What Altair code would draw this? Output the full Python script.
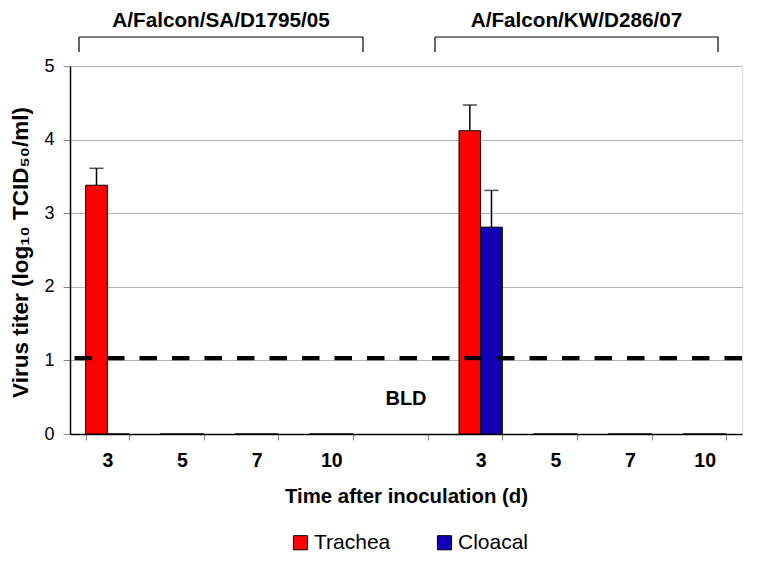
import altair as alt
import pandas as pd

GROUP_NAMES = ["A/Falcon/SA/D1795/05", "A/Falcon/KW/D286/07"]
GROUP_KEYS = ["A", "B"]
DAYS = ["3", "5", "7", "10"]
SERIES = ["Trachea", "Cloacal"]
COLORS = ["#FF0000", "#1200B4"]

TRACHEA_A = [3.38, 0, 0, 0]
TRACHEA_A_ERR = [0.23, 0, 0, 0]
CLOACAL_A = [0, 0, 0, 0]
CLOACAL_A_ERR = [0, 0, 0, 0]
TRACHEA_B = [4.12, 0, 0, 0]
TRACHEA_B_ERR = [0.35, 0, 0, 0]
CLOACAL_B = [2.81, 0, 0, 0]
CLOACAL_B_ERR = [0.50, 0, 0, 0]

DETECTION_LIMIT = [1.03]
BLD_LABEL = ["BLD"]

FONT = "Liberation Sans"

rows = []
for gk, tv, te, cv, ce in [("A", TRACHEA_A, TRACHEA_A_ERR, CLOACAL_A, CLOACAL_A_ERR),
                           ("B", TRACHEA_B, TRACHEA_B_ERR, CLOACAL_B, CLOACAL_B_ERR)]:
    for i, d in enumerate(DAYS):
        rows.append({"key": f"{gk}|{d}", "series": "Trachea", "value": tv[i], "err": te[i]})
        rows.append({"key": f"{gk}|{d}", "series": "Cloacal", "value": cv[i], "err": ce[i]})
df = pd.DataFrame(rows)
df["top"] = df["value"] + df["err"]
err_df = df[df["err"] > 0]

domain = [f"A|{d}" for d in DAYS] + ["gap|"] + [f"B|{d}" for d in DAYS]

xscale = alt.Scale(domain=domain, paddingInner=0.42, paddingOuter=0.21)
yscale = alt.Scale(domain=[0, 5])
offscale = alt.Scale(domain=SERIES)

xaxis = alt.Axis(labelExpr="split(datum.label, '|')[1]", tickBand="extent", labelAngle=0,
                 labelFontSize=19.5, labelFontWeight="bold", labelFont=FONT, labelColor="black",
                 labelPadding=11, tickSize=6, tickColor="#888888", domainColor="black",
                 domainWidth=1.5, grid=False, titleFont=FONT, titleFontSize=20.4,
                 titleFontWeight="bold", titlePadding=17, titleColor="black")
yaxis = alt.Axis(values=[0, 1, 2, 3, 4, 5], format="d", labelFontSize=18, labelFont=FONT,
                 labelColor="black", labelPadding=9, tickSize=7, tickColor="#888888",
                 domainColor="black", domainWidth=1.5, gridColor="#b4b4b4", gridWidth=1,
                 titleFont=FONT, titleFontSize=22.5, titleFontWeight="bold", titleColor="black",
                 titleX=-43, titleY=186, titleBaseline="alphabetic", titleAngle=270)

base = alt.Chart(df)

bars = base.mark_bar(stroke="black", strokeWidth=1).encode(
    x=alt.X("key:N", scale=xscale, axis=xaxis, title="Time after inoculation (d)", sort=domain),
    xOffset=alt.XOffset("series:N", scale=offscale, sort=SERIES),
    y=alt.Y("value:Q", scale=yscale, axis=yaxis, title="Virus titer (log₁₀ TCID₅₀/ml)"),
    color=alt.Color("series:N", scale=alt.Scale(domain=SERIES, range=COLORS), sort=SERIES,
                    legend=alt.Legend(title=None, orient="none", direction="horizontal",
                                      legendX=220, legendY=466, symbolType="square",
                                      symbolSize=200, symbolStrokeColor="black",
                                      symbolStrokeWidth=1, symbolOpacity=1,
                                      labelFont=FONT, labelFontSize=21, labelColor="black",
                                      columnPadding=43, labelOffset=3)),
)

err_rule = alt.Chart(err_df).mark_rule(color="black", strokeWidth=1.5).encode(
    x=alt.X("key:N", scale=xscale, sort=domain),
    xOffset=alt.XOffset("series:N", scale=offscale, sort=SERIES),
    y=alt.Y("value:Q", scale=yscale),
    y2="top:Q",
)
err_cap = alt.Chart(err_df).mark_tick(color="black", thickness=1.5, size=14).encode(
    x=alt.X("key:N", scale=xscale, sort=domain),
    xOffset=alt.XOffset("series:N", scale=offscale, sort=SERIES),
    y=alt.Y("top:Q", scale=yscale),
)

limit_df = pd.DataFrame({"limit": DETECTION_LIMIT})
limit = alt.Chart(limit_df).mark_rule(color="black", strokeWidth=4.3, strokeDash=[17.5, 15]).encode(
    y=alt.Y("limit:Q", scale=yscale),
)

bld_df = pd.DataFrame({"key": ["gap|"], "label": BLD_LABEL, "y": [0.47]})
bld = alt.Chart(bld_df).mark_text(font=FONT, fontSize=20, fontWeight="bold", color="black").encode(
    x=alt.X("key:N", scale=xscale, sort=domain),
    y=alt.Y("y:Q", scale=yscale),
    text="label:N",
)

# group brackets and titles (annotation in pixel space above plot)
br_df = pd.DataFrame({
    "name": GROUP_NAMES,
    "x0": [9, 365],
    "x1": [293, 648],
})
br_df["xc"] = (br_df["x0"] + br_df["x1"]) / 2
br_h = alt.Chart(br_df).mark_rule(color="black", strokeWidth=1.2).encode(
    x=alt.X("x0:Q", scale=None), x2="x1:Q", y=alt.value(-29))
br_l = alt.Chart(br_df).mark_rule(color="black", strokeWidth=1.2).encode(
    x=alt.X("x0:Q", scale=None), y=alt.value(-29), y2=alt.value(-14))
br_r = alt.Chart(br_df).mark_rule(color="black", strokeWidth=1.2).encode(
    x=alt.X("x1:Q", scale=None), y=alt.value(-29), y2=alt.value(-14))
br_t = alt.Chart(br_df).mark_text(font=FONT, fontSize=20.7, fontWeight="bold", color="black",
                                  baseline="middle").encode(
    x=alt.X("xc:Q", scale=None), y=alt.value(-45.5), text="name:N")

chart = alt.layer(bars, err_rule, err_cap, limit, bld, br_h, br_l, br_r, br_t).properties(
    width=672, height=368,
    autosize=alt.AutoSizeParams(type="none"),
    padding={"left": 62, "top": 58, "right": 9, "bottom": 120},
).configure_view(stroke="black", strokeWidth=1.5).configure(background="white")

chart.save("out.html", embed_options={"renderer": "svg", "actions": False})
